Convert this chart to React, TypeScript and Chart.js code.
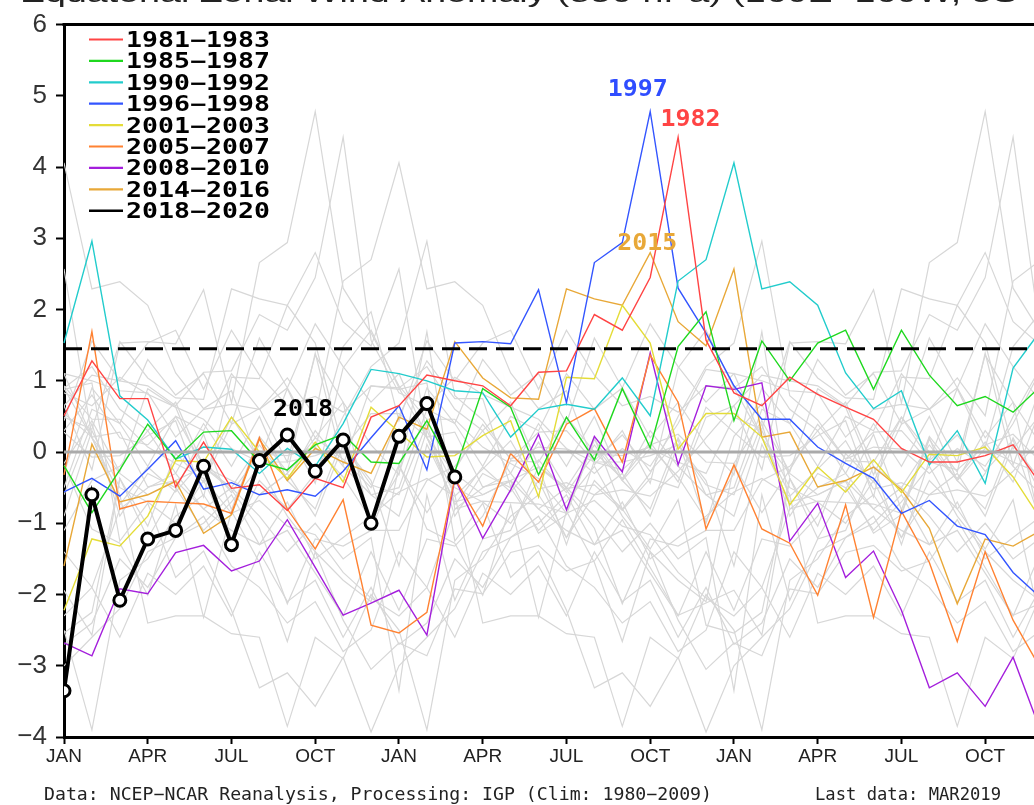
import React, { useEffect, useRef } from "react";
import { Chart, registerables } from "chart.js";

Chart.register(...registerables);

// ---------- tick labels ----------
const MONTHS = ["JAN", "FEB", "MAR", "APR", "MAY", "JUN", "JUL", "AUG", "SEP", "OCT", "NOV", "DEC"];
const Y_MIN = -4;
const Y_MAX = 6;
const THRESHOLD = 1.45;

// ---------- monthly anomalies per year ----------
const y1980 = [0.3, 0.8, 0.2, 0.1, 0.5, -0.2, -0.4, -0.6, -0.3, 0.2, -0.1, -0.5];
const y1981 = [0.51, 1.28, 0.75, 0.75, -0.49, 0.14, -0.51, -0.46, -0.82, -0.37, -0.5, 0.49];
const y1982 = [0.65, 1.08, 1.0, 0.93, 0.65, 1.12, 1.14, 1.93, 1.71, 2.45, 4.42, 1.57];
const y1983 = [0.83, 0.65, 1.05, 0.81, 0.63, 0.46, 0.05, -0.14, -0.14, -0.05, 0.1, -0.46];
const y1984 = [-0.6, 0.4, -0.9, -0.3, -0.5, -1.1, -0.7, -0.2, -0.9, -1.4, -1.8, -2.1];
const y1985 = [-0.19, -0.85, -0.25, 0.39, -0.1, 0.28, 0.3, -0.14, -0.25, 0.1, 0.25, -0.14];
const y1986 = [-0.16, 0.44, -0.28, 0.89, 0.63, -0.32, 0.49, -0.11, 0.89, 0.06, 1.48, 1.97];
const y1987 = [0.44, 1.56, 1.0, 1.53, 1.71, 0.88, 1.71, 1.08, 0.65, 0.78, 0.56, 0.93];
const y1988 = [0.9, 0.2, -0.6, -2.4, -2.3, -2.3, -2.55, -2.6, -3.85, -2.6, -2.9, -2.0];
const y1989 = [-2.5, -3.9, -1.8, -1.5, -0.9, -0.6, -1.2, -0.4, -0.8, -0.3, 0.5, 1.2];
const y1990 = [1.53, 2.96, 0.79, 0.45, -0.1, 0.07, 0.04, -0.3, 0.05, -0.2, 0.4, 1.16];
const y1991 = [1.1, 1.0, 0.86, 0.83, 0.21, 0.6, 0.67, 0.6, 1.04, 0.51, 2.4, 2.7];
const y1992 = [4.06, 2.29, 2.39, 2.06, 1.11, 0.61, 0.86, -0.18, 0.3, -0.44, 1.18, 1.71];
const y1993 = [0.9, 1.2, 0.6, 0.3, 0.7, -0.2, -0.5, 0.1, -0.4, 0.3, -0.2, -0.6];
const y1994 = [-0.5, 0.6, 0.4, 1.3, 0.8, 1.1, 0.4, 1.6, 0.9, 1.8, 1.2, 0.7];
const y1995 = [1.1, 0.2, -0.3, -0.6, -0.4, -0.8, -1.1, -1.3, -0.7, -1.5, -1.2, -0.9];
const y1996 = [-0.56, -0.37, -0.62, -0.24, 0.16, -0.52, -0.43, -0.6, -0.53, -0.62, -0.27, 0.2];
const y1997 = [0.65, -0.25, 1.53, 1.55, 1.52, 2.28, 0.69, 2.66, 2.94, 4.78, 2.3, 1.67];
const y1998 = [0.93, 0.46, 0.46, 0.07, -0.16, -0.37, -0.86, -0.68, -1.04, -1.16, -1.69, -2.05];
const y1999 = [-2.3, -1.9, -2.6, -1.7, -2.0, -1.6, -2.3, -1.4, -2.1, -1.8, -2.6, -1.9];
const y2000 = [-2.7, -2.4, -1.5, -1.9, -1.2, -1.0, -0.6, -1.3, -1.1, -1.7, -2.3, -1.4];
const y2001 = [-2.22, -1.22, -1.32, -0.9, -0.12, -0.14, 0.49, 0.0, -0.37, 0.14, -0.42, 0.63];
const y2002 = [0.28, -0.07, -0.05, 0.23, 0.44, -0.63, 1.05, 1.03, 2.06, 1.53, 0.04, 0.54];
const y2003 = [0.54, 0.21, -0.74, -0.21, -0.56, -0.11, -0.57, -0.03, -0.05, 0.07, -0.35, -0.95];
const y2004 = [-0.3, 0.9, 0.4, -0.2, 0.5, 0.3, 1.1, 0.6, 0.9, 0.2, 0.7, 0.1];
const y2005 = [-0.32, 1.69, -0.8, -0.69, -0.71, -0.73, -0.86, 0.2, -0.8, -1.36, -0.67, -2.43];
const y2006 = [-2.54, -2.25, -0.37, -1.04, -0.02, -0.42, 0.39, 0.61, -0.14, 1.36, 0.7, -1.08];
const y2007 = [-0.18, -1.08, -1.28, -2.01, -0.74, -2.32, -0.83, -1.55, -2.66, -1.4, -2.36, -3.05];
const y2008 = [-2.68, -2.86, -1.92, -1.99, -1.41, -1.31, -1.67, -1.53, -0.95, -1.62, -2.29, -2.12];
const y2009 = [-1.94, -2.57, -0.37, -1.21, -0.53, 0.25, -0.81, 0.22, -0.28, 1.39, -0.18, 0.93];
const y2010 = [0.88, 0.97, -1.25, -0.72, -1.76, -1.39, -2.22, -3.31, -3.1, -3.57, -2.88, -3.93];
const y2011 = [-3.0, -2.6, -2.2, -1.4, -1.2, -0.9, -1.6, -1.9, -2.4, -2.1, -2.8, -2.5];
const y2012 = [-1.4, -1.9, -0.8, -0.5, -0.3, 0.4, -0.2, 0.5, -0.4, -0.8, 0.2, -0.6];
const y2013 = [-0.9, 0.3, -0.5, -0.7, -1.0, -0.4, -1.2, -0.6, -0.3, -0.9, 0.1, -0.4];
const y2014 = [-1.6, 0.11, -0.7, -0.6, -0.41, -1.14, -0.88, 0.18, -0.4, 0.05, -0.14, -0.3];
const y2015 = [0.49, 0.32, 1.55, 1.04, 0.76, 0.74, 2.29, 2.15, 2.06, 2.8, 1.83, 1.49];
const y2016 = [2.57, 0.21, 0.28, -0.49, -0.4, -0.21, -0.53, -1.07, -2.13, -1.22, -1.32, -1.1];
const y2017 = [-1.1, -0.4, -0.2, 0.3, -0.3, -0.8, -0.5, -0.9, -1.4, -1.0, -1.5, -1.2];
const y2018 = [-3.35, -0.6, -2.08, -1.22, -1.1, -0.2, -1.3, -0.12, 0.24, -0.27, 0.17, -1.0];
const y2019 = [0.22, 0.68, -0.35];

const YEARS: Record<number, number[]> = {
  1980: y1980, 1981: y1981, 1982: y1982, 1983: y1983, 1984: y1984, 1985: y1985,
  1986: y1986, 1987: y1987, 1988: y1988, 1989: y1989, 1990: y1990, 1991: y1991,
  1992: y1992, 1993: y1993, 1994: y1994, 1995: y1995, 1996: y1996, 1997: y1997,
  1998: y1998, 1999: y1999, 2000: y2000, 2001: y2001, 2002: y2002, 2003: y2003,
  2004: y2004, 2005: y2005, 2006: y2006, 2007: y2007, 2008: y2008, 2009: y2009,
  2010: y2010, 2011: y2011, 2012: y2012, 2013: y2013, 2014: y2014, 2015: y2015,
  2016: y2016, 2017: y2017, 2018: y2018, 2019: y2019,
};

// ---------- series ----------
const highlightStarts = [1981, 1985, 1990, 1996, 2001, 2005, 2008, 2014, 2018];
const highlightLabels = ["1981−1983", "1985−1987", "1990−1992", "1996−1998", "2001−2003", "2005−2007", "2008−2010", "2014−2016", "2018−2020"];
const highlightColors = ["#ff4444", "#1fd81f", "#22cccc", "#3355ff", "#e4dc38", "#ff8232", "#a41fdc", "#e8a838", "#000000"];
const grayStarts = [1980, 1982, 1983, 1984, 1986, 1987, 1988, 1989, 1991, 1992, 1993, 1994, 1995, 1997, 1998, 1999, 2000, 2002, 2003, 2004, 2006, 2007, 2009, 2010, 2011, 2012, 2013, 2015, 2016, 2017];

const annotations = [
  { text: "1997", color: "#2f4dff", x: 20.55, y: 5.0 },
  { text: "1982", color: "#ff4444", x: 22.44, y: 4.58 },
  { text: "2015", color: "#e8a838", x: 20.89, y: 2.83 },
  { text: "2018", color: "#000000", x: 8.56, y: 0.51 },
];

const TITLE = "Equatorial Zonal Wind Anomaly (850 hPa) (160E−160W, 5S−5N)";
const FOOT_LEFT = "Data: NCEP−NCAR Reanalysis, Processing: IGP (Clim: 1980−2009)";
const FOOT_RIGHT = "Last data: MAR2019";

function windowSeries(start: number) {
  const vals = [...(YEARS[start] || []), ...(YEARS[start + 1] || []), ...(YEARS[start + 2] || [])];
  return vals.map((v, i) => ({ x: i, y: v }));
}

// draw text stretched horizontally to a target width
function drawFit(ctx: CanvasRenderingContext2D, text: string, x: number, y: number, font: string, color: string, targetW: number, align: "left" | "center") {
  ctx.save();
  ctx.font = font;
  ctx.fillStyle = color;
  ctx.textBaseline = "alphabetic";
  ctx.textAlign = "left";
  const raw = ctx.measureText(text).width;
  const sx = targetW / raw;
  const x0 = align === "center" ? x - targetW / 2 : x;
  ctx.translate(x0, y);
  ctx.scale(sx, 1);
  ctx.fillText(text, 0, 0);
  ctx.restore();
}

const decorPlugin = {
  id: "decor",
  afterDraw(chart: any) {
    const { ctx, chartArea: a, scales } = chart;
    const xs = scales.x;
    const ys = scales.y;
    ctx.save();
    // top frame line
    ctx.strokeStyle = "#000";
    ctx.lineWidth = 3;
    ctx.beginPath();
    ctx.moveTo(a.left - 1.5, a.top);
    ctx.lineTo(a.right + 1.5, a.top);
    ctx.stroke();

    // title (cropped at the top of the picture)
    drawFit(ctx, TITLE, 20, 2, "26px 'Liberation Sans', sans-serif", "#222", 1080, "left");

    // legend
    const legFont = "bold 20.5px 'DejaVu Sans Mono', monospace";
    highlightLabels.forEach((lab, k) => {
      const cy = 39.5 + k * 21.4;
      ctx.strokeStyle = highlightColors[k];
      ctx.lineWidth = k === 8 ? 2.5 : 2.2;
      ctx.setLineDash([]);
      ctx.beginPath();
      ctx.moveTo(89, cy);
      ctx.lineTo(123, cy);
      ctx.stroke();
      drawFit(ctx, lab, 126, cy + 7.5, legFont, "#000", 144, "left");
    });

    // year annotations
    const annFont = "bold 23px 'DejaVu Sans Mono', monospace";
    annotations.forEach((an) => {
      drawFit(ctx, an.text, xs.getPixelForValue(an.x), ys.getPixelForValue(an.y), annFont, an.color, 60, "center");
    });

    // footer
    const footFont = "17.6px 'DejaVu Sans Mono', monospace";
    drawFit(ctx, FOOT_LEFT, 44, 800, footFont, "#222", 668, "left");
    drawFit(ctx, FOOT_RIGHT, 815, 800, footFont, "#222", 186, "left");
    ctx.restore();
  },
};

export default function App() {
  const ref = useRef<HTMLCanvasElement | null>(null);

  useEffect(() => {
    if (!ref.current) return;
    const datasets: any[] = [];
    grayStarts.forEach((s) => {
      datasets.push({
        data: windowSeries(s),
        borderColor: "#d7d7d7",
        borderWidth: 1.2,
        pointRadius: 0,
        order: 20,
      });
    });
    datasets.push({
      data: [{ x: 0, y: 0 }, { x: 35, y: 0 }],
      borderColor: "#aaaaaa",
      borderWidth: 3,
      pointRadius: 0,
      order: 4,
    });
    highlightStarts.forEach((s, k) => {
      const isLast = k === highlightStarts.length - 1;
      datasets.push({
        data: windowSeries(s),
        borderColor: highlightColors[k],
        borderWidth: isLast ? 4 : 1.4,
        pointRadius: isLast ? 6 : 0,
        pointBorderWidth: isLast ? 3 : 0,
        pointBackgroundColor: "#ffffff",
        pointBorderColor: "#000000",
        clip: isLast ? 0 : 2,
        order: isLast ? 2 : 6,
      });
    });
    datasets.push({
      data: [{ x: 0, y: THRESHOLD }, { x: 35, y: THRESHOLD }],
      borderColor: "#000000",
      borderWidth: 3,
      borderDash: [18, 9],
      pointRadius: 0,
      order: 1,
    });

    const chart = new Chart(ref.current, {
      type: "line",
      data: { datasets },
      options: {
        animation: false,
        responsive: false,
        maintainAspectRatio: false,
        layout: { padding: { left: 0, right: 59, top: 17, bottom: 0 } },
        plugins: { legend: { display: false }, tooltip: { enabled: false } },
        elements: { line: { tension: 0 } },
        scales: {
          x: {
            type: "linear",
            min: 0,
            max: 35,
            afterFit: (s: any) => {
              s.height = 68;
            },
            ticks: {
              stepSize: 3,
              includeBounds: false,
              autoSkip: false,
              maxRotation: 0,
              padding: 1,
              color: "#222",
              font: { family: "'Liberation Sans', sans-serif", size: 19 },
              callback: (v: any) => MONTHS[(Number(v) % 12 + 12) % 12],
            },
            grid: { drawOnChartArea: false, drawTicks: true, tickLength: 7, tickColor: "#000", tickWidth: 2 },
            border: { display: true, color: "#000", width: 3 },
          },
          y: {
            min: Y_MIN,
            max: Y_MAX,
            afterFit: (s: any) => {
              s.width = 64;
            },
            ticks: {
              stepSize: 1,
              padding: 9,
              color: "#333",
              font: { family: "'Liberation Sans', sans-serif", size: 26 },
              callback: (v: any) => (Number(v) < 0 ? "−" + Math.abs(Number(v)) : String(v)),
            },
            grid: { drawOnChartArea: false, drawTicks: true, tickLength: 8, tickColor: "#000", tickWidth: 2 },
            border: { display: true, color: "#000", width: 3 },
          },
        },
      },
      plugins: [decorPlugin],
    } as any);
    return () => chart.destroy();
  }, []);

  return (
    <div style={{ position: "fixed", left: 0, top: 0, width: 1034, height: 805, overflow: "hidden", background: "#fff" }}>
      <canvas ref={ref} width={1100} height={805} style={{ width: 1100, height: 805, display: "block" }} />
    </div>
  );
}
